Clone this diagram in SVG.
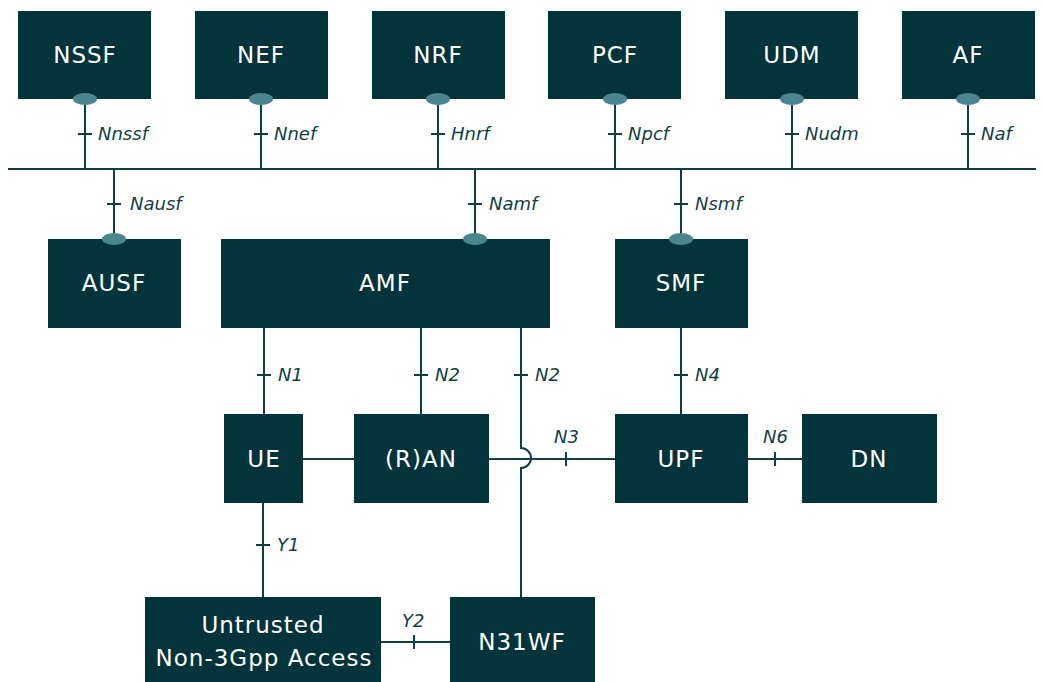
<svg xmlns="http://www.w3.org/2000/svg" width="1044" height="682" viewBox="0 0 1044 682">
<style>
.box{fill:#03333b}
.t{font-family:"DejaVu Sans","Liberation Sans",sans-serif;font-size:23px;fill:#ffffff;text-anchor:middle;letter-spacing:1px}
.l{font-family:"DejaVu Sans","Liberation Sans",sans-serif;font-size:18px;font-style:italic;fill:#0f3e44}
.ln{stroke:#0f3e44;stroke-width:2;fill:none}
.port{fill:#4a868d}
</style>
<rect width="1044" height="682" fill="#ffffff"/>
<g id="connectors">
<line class="ln" x1="8" y1="169" x2="1036" y2="169"/>
<line class="ln" x1="85" y1="99" x2="85" y2="169"/>
<line class="ln" x1="78" y1="134" x2="92" y2="134"/>
<text class="l" x="98" y="140">Nnssf</text>
<line class="ln" x1="261" y1="99" x2="261" y2="169"/>
<line class="ln" x1="254" y1="134" x2="268" y2="134"/>
<text class="l" x="274" y="140">Nnef</text>
<line class="ln" x1="438" y1="99" x2="438" y2="169"/>
<line class="ln" x1="431" y1="134" x2="445" y2="134"/>
<text class="l" x="451" y="140">Hnrf</text>
<line class="ln" x1="615" y1="99" x2="615" y2="169"/>
<line class="ln" x1="608" y1="134" x2="622" y2="134"/>
<text class="l" x="628" y="140">Npcf</text>
<line class="ln" x1="792" y1="99" x2="792" y2="169"/>
<line class="ln" x1="785" y1="134" x2="799" y2="134"/>
<text class="l" x="805" y="140">Nudm</text>
<line class="ln" x1="968" y1="99" x2="968" y2="169"/>
<line class="ln" x1="961" y1="134" x2="975" y2="134"/>
<text class="l" x="981" y="140">Naf</text>
<line class="ln" x1="114" y1="169" x2="114" y2="239"/>
<line class="ln" x1="107" y1="204" x2="121" y2="204"/>
<text class="l" x="130" y="210">Nausf</text>
<line class="ln" x1="475" y1="169" x2="475" y2="239"/>
<line class="ln" x1="468" y1="204" x2="482" y2="204"/>
<text class="l" x="489" y="210">Namf</text>
<line class="ln" x1="681" y1="169" x2="681" y2="239"/>
<line class="ln" x1="674" y1="204" x2="688" y2="204"/>
<text class="l" x="695" y="210">Nsmf</text>
<line class="ln" x1="264" y1="328" x2="264" y2="414"/>
<line class="ln" x1="257" y1="375" x2="271" y2="375"/>
<text class="l" x="278" y="381">N1</text>
<line class="ln" x1="421" y1="328" x2="421" y2="414"/>
<line class="ln" x1="414" y1="375" x2="428" y2="375"/>
<text class="l" x="435" y="381">N2</text>
<path class="ln" d="M521 328 V448 A10 10 0 0 1 521 468 V597"/>
<line class="ln" x1="514" y1="375" x2="528" y2="375"/>
<text class="l" x="535" y="381">N2</text>
<line class="ln" x1="681" y1="328" x2="681" y2="414"/>
<line class="ln" x1="674" y1="375" x2="688" y2="375"/>
<text class="l" x="695" y="381">N4</text>
<line class="ln" x1="303" y1="459" x2="354" y2="459"/>
<line class="ln" x1="489" y1="459" x2="615" y2="459"/>
<line class="ln" x1="566" y1="452" x2="566" y2="466"/>
<text class="l" x="554" y="443">N3</text>
<line class="ln" x1="748" y1="459" x2="802" y2="459"/>
<line class="ln" x1="775" y1="452" x2="775" y2="466"/>
<text class="l" x="763" y="443">N6</text>
<line class="ln" x1="263" y1="503" x2="263" y2="597"/>
<line class="ln" x1="256" y1="545" x2="270" y2="545"/>
<text class="l" x="277" y="551">Y1</text>
<line class="ln" x1="381" y1="642" x2="450" y2="642"/>
<line class="ln" x1="414" y1="635" x2="414" y2="649"/>
<text class="l" x="402" y="627">Y2</text>
</g>
<g id="NSSF"><rect class="box" x="18" y="11" width="133" height="88"/><text class="t" x="85" y="63">NSSF</text><ellipse class="port" cx="85" cy="99" rx="12" ry="6"/></g>
<g id="NEF"><rect class="box" x="195" y="11" width="133" height="88"/><text class="t" x="261" y="63">NEF</text><ellipse class="port" cx="261" cy="99" rx="12" ry="6"/></g>
<g id="NRF"><rect class="box" x="372" y="11" width="133" height="88"/><text class="t" x="438" y="63">NRF</text><ellipse class="port" cx="438" cy="99" rx="12" ry="6"/></g>
<g id="PCF"><rect class="box" x="548" y="11" width="133" height="88"/><text class="t" x="615" y="63">PCF</text><ellipse class="port" cx="615" cy="99" rx="12" ry="6"/></g>
<g id="UDM"><rect class="box" x="725" y="11" width="133" height="88"/><text class="t" x="792" y="63">UDM</text><ellipse class="port" cx="792" cy="99" rx="12" ry="6"/></g>
<g id="AF"><rect class="box" x="902" y="11" width="133" height="88"/><text class="t" x="968" y="63">AF</text><ellipse class="port" cx="968" cy="99" rx="12" ry="6"/></g>
<g id="AUSF"><rect class="box" x="48" y="239" width="133" height="89"/><text class="t" x="114" y="291">AUSF</text><ellipse class="port" cx="114" cy="239" rx="12" ry="6"/></g>
<g id="AMF"><rect class="box" x="221" y="239" width="329" height="89"/><text class="t" x="385" y="291">AMF</text><ellipse class="port" cx="475" cy="239" rx="12" ry="6"/></g>
<g id="SMF"><rect class="box" x="615" y="239" width="133" height="89"/><text class="t" x="681" y="291">SMF</text><ellipse class="port" cx="681" cy="239" rx="12" ry="6"/></g>
<g id="UE"><rect class="box" x="224" y="414" width="79" height="89"/><text class="t" x="264" y="467">UE</text></g>
<g id="RAN"><rect class="box" x="354" y="414" width="135" height="89"/><text class="t" x="421" y="467">(R)AN</text></g>
<g id="UPF"><rect class="box" x="615" y="414" width="133" height="89"/><text class="t" x="681" y="467">UPF</text></g>
<g id="DN"><rect class="box" x="802" y="414" width="135" height="89"/><text class="t" x="869" y="467">DN</text></g>
<g id="Untrusted"><rect class="box" x="145" y="597" width="236" height="85"/><text class="t" x="263" y="633">Untrusted</text><text class="t" x="264" y="666">Non-3Gpp Access</text></g>
<g id="N31WF"><rect class="box" x="450" y="597" width="145" height="85"/><text class="t" x="522" y="650">N31WF</text></g>
</svg>
